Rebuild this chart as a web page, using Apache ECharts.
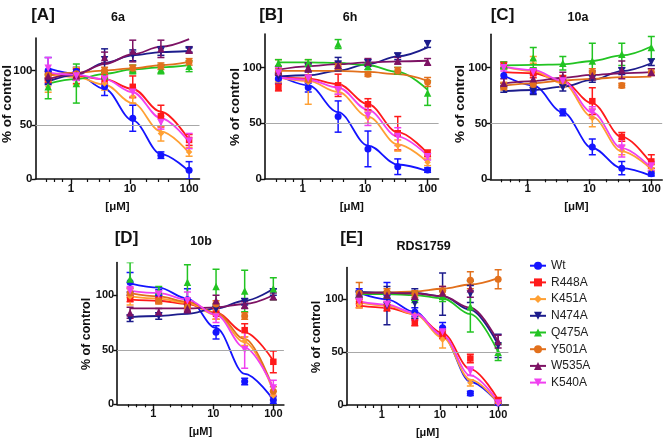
<!DOCTYPE html>
<html><head><meta charset="utf-8">
<script src="https://cdn.jsdelivr.net/npm/echarts@6/dist/echarts.min.js"></script>
<style>html,body{margin:0;padding:0;background:#fff}#c{width:666px;height:440px}</style>
</head><body><div id="c"></div>
<script>
// ---------------- data ----------------
const conc = [0.41, 1.23, 3.7, 11.1, 33.3, 100];
const seriesNames = ['Wt','R448A','K451A','N474A','Q475A','Y501A','W535A','K540A'];
const xMajorTicks = [1, 10, 100];
const xMinorTicks = [0.38, 0.52, 0.72, 1.9, 2.95, 4.4, 19, 29.5, 44];
const yTicks = [0, 50, 100];
const panelLetters = ['[A]','[B]','[C]','[D]','[E]'];
const panelTitles = ['6a','6h','10a','10b','RDS1759'];

// rows follow seriesNames order
const A_means = [[100,99,85,56,22,8],[93,95,92,85,58,36],[85,95,88,76,42,25],[90,95,110,114,118,119],[85,88,95,101,101,104],[96,97,100,102,104,108],[95,96,112,118,120,119],[102,95,92,80,52,35]];
const A_errs  = [[12,4,8,12,3,8],[4,7,4,10,10,5],[5,8,6,6,7,4],[3,4,10,5,4,2],[11,18,3,4,4,5],[3,4,3,3,3,3],[4,5,5,10,8,3],[10,4,3,4,6,7]];
const A_fit   = [[102,97,83,54,23,7],[96,95,92,83,62,36],[97,94,87,70,44,24],[90,96,107,114,117,118],[88,92,97,101,103,105],[96,98,100,102,105,108],[92,97,106,115,122,129],[98,96,92,80,56,34]];

const B_means = [[90,82,56,27,11,8],[82,90,84,67,41,23],[97,87,80,55,30,15],[92,100,103,104,110,121],[104,104,121,101,97,77],[96,89,101,94,97,87],[97,100,102,105,106,105],[95,90,80,57,38,20]];
const B_errs  = [[4,4,14,16,7,2],[3,3,10,5,15,3],[10,20,4,5,5,3],[3,4,6,3,3,3],[3,3,4,3,3,11],[3,2,3,2,3,4],[4,4,3,3,3,3],[5,3,4,9,8,3]];
const B_fit   = [[93,84,60,30,13,7],[91,90,85,67,42,23],[91,88,78,56,31,15],[92,93,97,103,110,118],[104.5,104.5,104,102,96,80],[97,97,97,96,94,88],[98,101,103,104.5,105.5,106],[91,89,82,62,38,21]];

const C_means = [[93,80,60,29,10,5],[102,95,90,70,38,16],[84,107,86,55,26,10],[81,79,82,90,97,105],[102,109,104,106,112,118],[83,85,88,96,84,96],[86,90,92,93,98,96],[100,96,88,60,28,12]];
const C_errs  = [[7,3,3,7,6,2],[3,4,3,12,4,6],[3,3,3,8,4,3],[3,3,3,3,3,3],[3,9,6,16,10,10],[3,3,3,3,2,3],[4,4,4,4,8,3],[3,3,3,5,8,4]];
const C_fit   = [[93,84,60,28,10,3],[96,95,88,68,38,14],[101,97,86,56,25,9],[79,80,83,89,97,104],[102,102.5,103,106,111,119],[84,86,88.5,90,91.5,92],[86,88,91,93.5,95,96],[101,98,88,60,28,10]];

const D_means = [[112,100,96,66,21,4],[97,96,92,83,68,39],[99,96,90,82,58,8],[79,81,88,87,94,103],[115,104,112,108,104,106],[102,95,89,92,81,12],[84,85,88,95,91,99],[104,101,95,80,50,15]];
const D_errs  = [[9,5,10,6,3,3],[3,3,3,5,6,10],[8,3,4,4,4,4],[3,3,4,3,3,3],[15,4,16,16,19,10],[4,3,4,3,3,4],[5,3,4,5,3,3],[4,3,8,5,17,7]];
const D_fit   = [[111,107,97,70,28,4],[96,95,92,84,66,40],[99,97,93,82,57,12],[80,81,83,88,95,106],[],[102,99,94,84,60,14],[88,88,88,89,92,100],[104,102,96,82,52,15]];

const E_means = [[107,104,88,73,11,2],[96,92,78,67,44,4],[95,95,85,62,21,2],[104,94,96,105,105,56],[105,104,102,103,93,50],[106,107,105,108,118,119],[105,104,103,106,110,60],[98,95,83,69,32,2]];
const E_errs  = [[3,12,4,5,2,2],[4,3,3,4,4,3],[3,3,3,8,3,2],[3,18,14,20,8,11],[3,3,5,5,24,8],[10,3,3,4,8,9],[3,3,3,6,8,6],[3,3,3,4,4,2]];
const E_fit   = [[106,100,88,65,22,2],[94,92,86,68,34,5],[97,94,86,64,24,2],[107,106.5,106,103,90,57],[105,105,104,101,86,50],[106,106.5,107.5,110,114,120],[106,106,105.5,103,92,60],[98,95,87,66,28,3]];

// ---------------- styles / layout ----------------
const FONT = '"Liberation Sans", Arial, Helvetica, sans-serif';
const colors = ['#1414ff','#ff1a1a','#ffa033','#1c1c8c','#22c422','#e2701c','#7d1264','#f040f0'];
const invTri = 'path://M0,0L10,0L5,8.66Z';
const symbols = ['circle','rect','diamond',invTri,'triangle','circle','triangle',invTri];
const symSizes = [7,6.5,6.5,7.5,7.5,7,7.5,7.5];

const panels = [
  {means:A_means, errs:A_errs, fit:A_fit, g:{left:35.5, top:38, width:164, height:141}, fs:11.5, nameFs:13.5,
   letterXY:[43,15.5], titleXY:[118,17.5], yNameXY:[7,104]},
  {means:B_means, errs:B_errs, fit:B_fit, g:{left:265, top:34, width:173.6, height:145}, fs:11.5, nameFs:13.5,
   letterXY:[271,15.5], titleXY:[350,17.5], yNameXY:[235,107]},
  {means:C_means, errs:C_errs, fit:C_fit, g:{left:490.5, top:34.2, width:171.7, height:145.1}, fs:11.5, nameFs:13.5,
   letterXY:[502.5,15], titleXY:[578,17.5], yNameXY:[460.5,104]},
  {means:D_means, errs:D_errs, fit:D_fit, g:{left:117.2, top:262.6, width:166.7, height:141.7}, fs:11, nameFs:12.5,
   letterXY:[126.5,238.5], titleXY:[201,242], yNameXY:[87,334]},
  {means:E_means, errs:E_errs, fit:E_fit, g:{left:346.7, top:267.6, width:161.7, height:137.4}, fs:11, nameFs:12.5,
   letterXY:[351.5,238.5], titleXY:[423.5,247], yNameXY:[317,337]}
];

function errRender(color){
  return function(params, api){
    const x = api.value(0), lo = api.value(1), hi = api.value(2);
    const a = api.coord([x, lo]), b = api.coord([x, hi]);
    const w = 3.5;
    const st = {stroke: color, lineWidth: 1.5};
    return {type:'group', children:[
      {type:'line', shape:{x1:a[0], y1:a[1], x2:b[0], y2:b[1]}, style:st},
      {type:'line', shape:{x1:a[0]-w, y1:a[1], x2:a[0]+w, y2:a[1]}, style:st},
      {type:'line', shape:{x1:b[0]-w, y1:b[1], x2:b[0]+w, y2:b[1]}, style:st}
    ]};
  };
}

const grid = [], xAxis = [], yAxis = [], series = [], graphic = [];
const axisCol = '#111';
panels.forEach((p, i) => {
  grid.push(Object.assign({containLabel:false}, p.g));
  xAxis.push({
    type:'log', logBase:10, gridIndex:i, min:0.25, max:150, position:'bottom',
    name:'[\u03bcM]', nameLocation:'middle', nameGap:22,
    nameTextStyle:{fontFamily:FONT, fontWeight:'bold', fontSize:p.fs, color:axisCol},
    axisLine:{show:true, onZero:false, lineStyle:{color:axisCol, width:1.6}},
    axisTick:{show:true, length:5, customValues:xMajorTicks, lineStyle:{color:axisCol, width:1.4}},
    axisLabel:{show:true, customValues:xMajorTicks, margin:4, fontFamily:FONT, fontWeight:'bold', fontSize:p.fs, color:axisCol},
    splitLine:{show:false}, minorTick:{show:false}
  });
  xAxis.push({
    type:'log', logBase:10, gridIndex:i, min:0.25, max:150, position:'bottom',
    axisLine:{show:false, onZero:false},
    axisTick:{show:true, length:3, customValues:xMinorTicks, lineStyle:{color:axisCol, width:1.2}},
    axisLabel:{show:false}, splitLine:{show:false}
  });
  yAxis.push({
    type:'value', gridIndex:i, min:0, max:130,
    axisLine:{show:true, onZero:false, lineStyle:{color:axisCol, width:1.6}},
    axisTick:{show:true, length:4, customValues:yTicks, lineStyle:{color:axisCol, width:1.4}},
    axisLabel:{show:true, customValues:yTicks, margin:3, fontFamily:FONT, fontWeight:'bold', fontSize:p.fs, color:axisCol},
    splitLine:{show:false}
  });
  // 50% reference line
  series.push({
    type:'line', xAxisIndex:2*i, yAxisIndex:i, data:[], silent:true, z:1,
    markLine:{silent:true, symbol:'none', label:{show:false}, animation:false,
      lineStyle:{color:'#a8a8a8', width:1, type:'solid'}, data:[{yAxis:50}]}
  });
  seriesNames.forEach((name, k) => {
    if (p.fit[k].length) {
      series.push({
        type:'line', name, xAxisIndex:2*i, yAxisIndex:i,
        data: conc.map((c, j) => [c, p.fit[k][j]]),
        smooth:0.35, smoothMonotone:'x', showSymbol:false,
        symbol:symbols[k], symbolSize:symSizes[k],
        itemStyle:{color:colors[k]}, lineStyle:{color:colors[k], width:1.8},
        clip:true, z:2, silent:true
      });
    }
  });
  seriesNames.forEach((name, k) => {
    series.push({
      type:'custom', name, xAxisIndex:2*i, yAxisIndex:i, clip:true, z:3, silent:true,
      itemStyle:{color:colors[k]},
      encode:{x:0, y:[1,2]},
      data: conc.map((c, j) => [c, p.means[k][j] - p.errs[k][j], p.means[k][j] + p.errs[k][j]]),
      renderItem: errRender(colors[k])
    });
    series.push({
      type:'scatter', name, xAxisIndex:2*i, yAxisIndex:i, z:4, silent:true,
      symbol:symbols[k], symbolSize:symSizes[k], itemStyle:{color:colors[k], opacity:1},
      data: conc.map((c, j) => [c, p.means[k][j]])
    });
  });
  graphic.push({type:'text', x:p.letterXY[0], y:p.letterXY[1],
    style:{text:panelLetters[i], font:'bold 17px ' + FONT, fill:'#111', textAlign:'center', textVerticalAlign:'middle'}});
  graphic.push({type:'text', x:p.titleXY[0], y:p.titleXY[1],
    style:{text:panelTitles[i], font:'bold 12.5px ' + FONT, fill:'#111', textAlign:'center', textVerticalAlign:'middle'}});
  graphic.push({type:'text', x:p.yNameXY[0], y:p.yNameXY[1], rotation:Math.PI/2,
    style:{text:'% of control', font:'bold ' + p.nameFs + 'px ' + FONT, fill:'#111', textAlign:'center', textVerticalAlign:'middle'}});
});

const chart = echarts.init(document.getElementById('c'), null, {renderer:'canvas'});
chart.setOption({
  animation:false,
  backgroundColor:'#fff',
  grid, xAxis, yAxis, series, graphic,
  legend:{
    orient:'vertical', left:529, top:258.7, padding:0,
    itemWidth:16, itemHeight:10, itemGap:2.7, selectedMode:false,
    data: seriesNames,
    textStyle:{fontFamily:FONT, fontSize:12, color:'#222', lineHeight:14}
  }
});
</script>
</body></html>
